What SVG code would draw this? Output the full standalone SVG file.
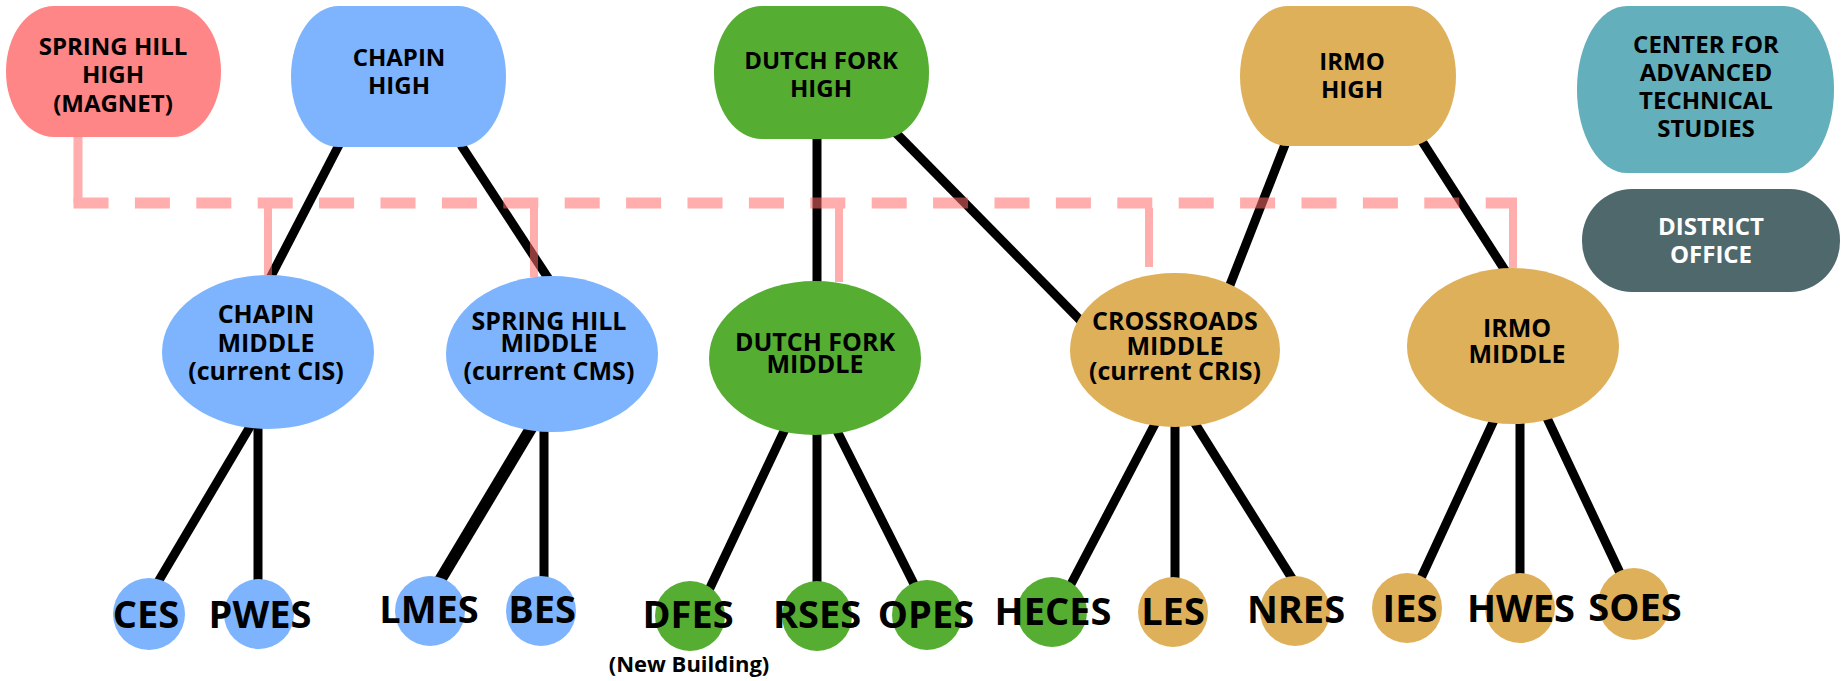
<svg xmlns="http://www.w3.org/2000/svg" width="1845" height="681" viewBox="0 0 1845 681">
<style>
text{font-family:"Open Sans","Noto Sans",sans-serif;font-weight:700;text-anchor:middle;fill:#000}
.m{font-size:24px}
.e{font-size:25px}
.s{font-size:38px}
.n{font-size:22px}
.w{fill:#fff}
.pink{fill:#ff8686}
.blue{fill:#7db4fd}
.green{fill:#55ad32}
.gold{fill:#dfb05a}
.teal{fill:#64afbc}
.slate{fill:#4f686c}
#connectors line{stroke:#000;stroke-width:9}
#pinklinks{opacity:0.55}
#pinklinks path{fill:none;stroke:#ff6b6b}
</style>
<rect width="1845" height="681" fill="#fff"/>
<g id="connectors">
<line x1="340" y1="143" x2="268" y2="282"/>
<line x1="461" y1="145" x2="552" y2="284"/>
<line x1="817" y1="135" x2="817" y2="290"/>
<line x1="896" y1="133" x2="1082" y2="322"/>
<line x1="1286" y1="142" x2="1228" y2="290"/>
<line x1="1420" y1="138" x2="1508" y2="275"/>
<line x1="251" y1="425" x2="158" y2="582"/>
<line x1="258" y1="425" x2="258" y2="582"/>
<line x1="533" y1="425" x2="439" y2="582" style="stroke-width:12"/>
<line x1="544" y1="425" x2="544" y2="580"/>
<line x1="786" y1="427" x2="709" y2="590"/>
<line x1="817" y1="430" x2="817" y2="590"/>
<line x1="835" y1="427" x2="916" y2="588"/>
<line x1="1156" y1="422" x2="1070" y2="586"/>
<line x1="1175" y1="422" x2="1175" y2="582"/>
<line x1="1194" y1="422" x2="1293" y2="580"/>
<line x1="1495" y1="418" x2="1421" y2="578"/>
<line x1="1520" y1="418" x2="1520" y2="578"/>
<line x1="1547" y1="418" x2="1621" y2="575"/>
</g>
<g id="pinklinks">
<path d="M78,137 V203" stroke-width="9"/>
<path d="M73.5,203 H1517" stroke-width="11" stroke-dasharray="35 26.4"/>
<path d="M1513,203 V268 M268,203 V275 M534,203 V277 M839,208 V282 M1149,208 V267" stroke-width="8"/>
</g>
<g id="spring-hill-high"><rect class="pink" x="6" y="6" width="215" height="131" rx="48" ry="65"/>
<text class="m" x="113" y="55">SPRING HILL</text><text class="m" x="113" y="83">HIGH</text><text class="m" x="113" y="112">(MAGNET)</text></g>
<g id="chapin-high"><rect class="blue" x="291" y="6" width="215" height="141" rx="48" ry="70"/>
<text class="m" x="399" y="66">CHAPIN</text><text class="m" x="399" y="94">HIGH</text></g>
<g id="dutch-fork-high"><rect class="green" x="714" y="6" width="215" height="133" rx="48" ry="66"/>
<text class="m" x="821" y="69">DUTCH FORK</text><text class="m" x="821" y="97">HIGH</text></g>
<g id="irmo-high"><rect class="gold" x="1240" y="6" width="216" height="140" rx="48" ry="70"/>
<text class="m" x="1352" y="70">IRMO</text><text class="m" x="1352" y="98">HIGH</text></g>
<g id="cats"><rect class="teal" x="1577" y="6" width="257" height="167" rx="50" ry="83"/>
<text class="m" x="1706" y="53">CENTER FOR</text><text class="m" x="1706" y="81">ADVANCED</text><text class="m" x="1706" y="109">TECHNICAL</text><text class="m" x="1706" y="137">STUDIES</text></g>
<g id="district-office"><rect class="slate" x="1582" y="189" width="258" height="103" rx="50" ry="51"/>
<text class="m w" x="1711" y="235">DISTRICT</text><text class="m w" x="1711" y="263">OFFICE</text></g>
<g id="chapin-middle"><ellipse class="blue" cx="268" cy="352" rx="106" ry="77"/>
<text class="e" x="266" y="323">CHAPIN</text><text class="e" x="266" y="352">MIDDLE</text><text class="e" x="266" y="380">(current CIS)</text></g>
<g id="spring-hill-middle"><ellipse class="blue" cx="552" cy="354" rx="106" ry="78"/>
<text class="e" x="549" y="330">SPRING HILL</text><text class="e" x="549" y="352">MIDDLE</text><text class="e" x="549" y="380">(current CMS)</text></g>
<g id="dutch-fork-middle"><ellipse class="green" cx="815" cy="358" rx="106" ry="77"/>
<text class="e" x="815" y="351">DUTCH FORK</text><text class="e" x="815" y="373">MIDDLE</text></g>
<g id="crossroads-middle"><ellipse class="gold" cx="1175" cy="350" rx="105" ry="77"/>
<text class="e" x="1175" y="330">CROSSROADS</text><text class="e" x="1175" y="355">MIDDLE</text><text class="e" x="1175" y="380">(current CRIS)</text></g>
<g id="irmo-middle"><ellipse class="gold" cx="1513" cy="346" rx="106" ry="78"/>
<text class="e" x="1517" y="337">IRMO</text><text class="e" x="1517" y="363">MIDDLE</text></g>
<g id="ces"><circle class="blue" cx="149" cy="614" r="36"/><text class="s" x="146" y="628">CES</text></g>
<g id="pwes"><circle class="blue" cx="259" cy="614" r="35"/><text class="s" x="260" y="628">PWES</text></g>
<g id="lmes"><circle class="blue" cx="430" cy="611" r="35"/><text class="s" x="429" y="623">LMES</text></g>
<g id="bes"><circle class="blue" cx="541" cy="611" r="35"/><text class="s" x="542" y="623">BES</text></g>
<g id="dfes"><circle class="green" cx="690" cy="616" r="35"/><text class="s" x="688" y="628">DFES</text><text class="n" x="689" y="672">(New Building)</text></g>
<g id="rses"><circle class="green" cx="817" cy="616" r="35"/><text class="s" x="817" y="628">RSES</text></g>
<g id="opes"><circle class="green" cx="927" cy="615" r="35"/><text class="s" x="926" y="628">OPES</text></g>
<g id="heces"><circle class="green" cx="1052" cy="612" r="35"/><text class="s" x="1053" y="625">HECES</text></g>
<g id="les"><circle class="gold" cx="1173" cy="612" r="35"/><text class="s" x="1173" y="625">LES</text></g>
<g id="nres"><circle class="gold" cx="1295" cy="611" r="35"/><text class="s" x="1296" y="623">NRES</text></g>
<g id="ies"><circle class="gold" cx="1407" cy="608" r="35"/><text class="s" x="1410" y="622">IES</text></g>
<g id="hwes"><circle class="gold" cx="1520" cy="608" r="35"/><text class="s" x="1521" y="622">HWES</text></g>
<g id="soes"><circle class="gold" cx="1634" cy="604" r="36"/><text class="s" x="1635" y="621">SOES</text></g>
</svg>
